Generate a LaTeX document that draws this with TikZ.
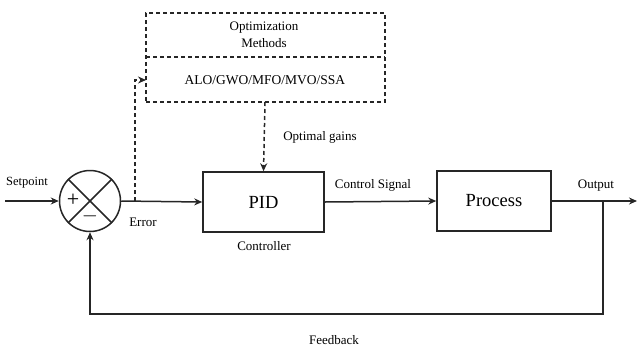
\documentclass[tikz,border=0pt]{standalone}
\usepackage{fontspec}
\setmainfont{Liberation Serif}
\usetikzlibrary{arrows.meta}
\begin{document}
\begin{tikzpicture}[x=1pt,y=-1pt,
  line/.style={draw=black!85,line width=1.5pt},
  arr/.style={line,-{Stealth[length=8pt,width=7pt]}},
  dsh/.style={draw=black!85,line width=1.5pt,dash pattern=on 4pt off 3pt},
  darr/.style={dsh,-{Stealth[length=8pt,width=7pt]}},
  blk/.style={line,rectangle,minimum width=121pt,minimum height=60pt,inner sep=0pt,font=\fontsize{18.5}{20}\selectfont},
  lbl/.style={font=\fontsize{13}{15}\selectfont,inner sep=0pt}]
\useasboundingbox (0,0) rectangle (637,349);
% summing junction
\node (sum) [line,circle,minimum size=61pt,inner sep=0pt] at (90,201) {};
\draw[line] (sum.north west) -- (sum.south east);
\draw[line] (sum.north east) -- (sum.south west);
\node (plus) [font=\fontsize{22}{22}\selectfont,inner sep=0pt] at (73,200) {+};
\node (minus) [font=\fontsize{22}{22}\selectfont,inner sep=0pt] at (90,216) {$-$};
% blocks
\node (pid) [blk] at (263.5,202) {PID};
\node (proc) [blk,minimum width=114pt] at (494,201) {Process};
% optimization box
\node (opt) [dsh,rectangle,minimum width=239pt,minimum height=89pt,inner sep=0pt] at (265.5,57.5) {};
\coordinate (divl) at (146,57);
\coordinate (divr) at (385,57);
\coordinate (algw) at (146,80);
\coordinate (algs) at (265,102);
\draw[dsh] (divl) -- (divr);
\node (optt) [lbl,align=center] at (264,35) {Optimization\\[2pt]Methods};
\node (algt) [font=\fontsize{13.5}{15}\selectfont,inner sep=0pt] at (265,80) {ALO/GWO/MFO/MVO/SSA};
% coordinates
\coordinate (sp) at (5,201);
\coordinate (br) at (135,201);
\coordinate (out) at (637,201);
\coordinate (fb) at (603,201);
% connectors
\draw[arr] (sp) -- (sum.west);
\draw[arr] (sum.east) -- (pid.west);
\draw[arr] (pid.east) -- (proc.west);
\draw[arr] (proc.east) -- (out);
\draw[arr] (fb) -- (603,314) -- (90,314) -- (sum.south);
\draw[darr] (br) -- (135,80) -- (algw);
\draw[darr] (algs) -- (pid.north);
% labels
\node (lsp) [lbl,font=\fontsize{12.5}{14}\selectfont] at (27,183) {Setpoint};
\node (ler) [lbl] at (143,222) {Error};
\node (lgain) [lbl] at (320,137) {Optimal gains};
\node (lcs) [lbl] at (373,185) {Control Signal};
\node (lout) [lbl] at (596,186) {Output};
\node (lctl) [lbl] at (264,246) {Controller};
\node (lfb) [lbl] at (334,340) {Feedback};
\end{tikzpicture}
\end{document}
